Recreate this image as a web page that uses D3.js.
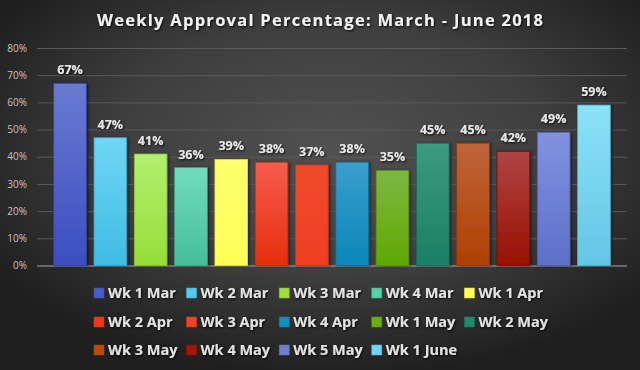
<!DOCTYPE html>
<html><head><meta charset="utf-8">
<script src="https://cdn.jsdelivr.net/npm/d3@7/dist/d3.min.js"></script>
<style>html,body{margin:0;padding:0;background:#2a2a2a;}svg{display:block;}</style>
</head><body>
<script>
const title = "Weekly Approval Percentage: March - June 2018";
const categories = ["Wk 1 Mar","Wk 2 Mar","Wk 3 Mar","Wk 4 Mar","Wk 1 Apr","Wk 2 Apr","Wk 3 Apr","Wk 4 Apr","Wk 1 May","Wk 2 May","Wk 3 May","Wk 4 May","Wk 5 May","Wk 1 June"];
const values = [67,47,41,36,39,38,37,38,35,45,45,42,49,59];
const yTicks = [0,10,20,30,40,50,60,70,80];
const topColors = ["#6a7ad2","#70d6f6","#b2ef70","#72dcba","#ffff6e","#f85c4c","#f04a2c","#3c9ecc","#7cb844","#3c9a80","#c0643c","#b04444","#8292e2","#8ce2f8"];
const bottomColors = ["#3a4ec0","#3ebbe4","#96de38","#44bf98","#ffff58","#e62e0c","#f03e22","#0887b8","#60a800","#1a7f65","#ae4000","#981000","#5c6fc8","#64c6e6"];
const legendColors = ["#4a5cc8","#55c8f0","#a0e040","#55d0a8","#ffff55","#f03a1e","#f04428","#1090c0","#68b010","#208a6c","#b84c10","#a01808","#7080d0","#70d4f4"];

const W = 640, H = 370;
const margin = {left: 37, right: 13, top: 48, bottom: 104};
const svg = d3.select("body").append("svg").attr("width", W).attr("height", H);
const defs = svg.append("defs");

const bg = defs.append("radialGradient").attr("id","bg").attr("cx","52%").attr("cy","40%").attr("r","62%");
bg.append("stop").attr("offset","0%").attr("stop-color","#515151");
bg.append("stop").attr("offset","55%").attr("stop-color","#3e3e3e");
bg.append("stop").attr("offset","100%").attr("stop-color","#1f1f1f");

const sh = defs.append("filter").attr("id","tshadow").attr("x","-10%").attr("y","-30%").attr("width","120%").attr("height","160%");
sh.append("feDropShadow").attr("dx",1).attr("dy",1.2).attr("stdDeviation",0.8).attr("flood-color","#000").attr("flood-opacity",0.85);
const bsh = defs.append("filter").attr("id","bshadow").attr("x","-20%").attr("y","-10%").attr("width","140%").attr("height","120%");
bsh.append("feDropShadow").attr("dx",1.5).attr("dy",0).attr("stdDeviation",1.2).attr("flood-color","#000").attr("flood-opacity",0.5);

categories.forEach((c,i) => {
  const g = defs.append("linearGradient").attr("id","g"+i).attr("x1",0).attr("y1",0).attr("x2",0).attr("y2",1);
  g.append("stop").attr("offset","0%").attr("stop-color", topColors[i]);
  g.append("stop").attr("offset","100%").attr("stop-color", bottomColors[i]);
});

svg.append("rect").attr("width",W).attr("height",H).attr("fill","url(#bg)");

svg.append("text").attr("x", 320).attr("y", 26).attr("text-anchor","middle")
  .attr("font-family","'Open Sans', sans-serif").attr("font-weight","bold").attr("font-size",16.5)
  .attr("fill","#f2f2f2").attr("filter","url(#tshadow)")
  .attr("textLength", 446).attr("lengthAdjust","spacing")
  .text(title);

const x = d3.scaleBand().domain(categories).range([margin.left, W - margin.right]).paddingInner(0.19).paddingOuter(0.415);
const y = d3.scaleLinear().domain([0,80]).range([H - margin.bottom - 0.5, margin.top]);

const yAxis = d3.axisLeft(y).tickValues(yTicks).tickFormat(d => d + "%").tickSize(-(W - margin.left - margin.right)).tickPadding(10);
const ga = svg.append("g").attr("transform", `translate(${margin.left},0)`).call(yAxis);
ga.select(".domain").remove();
ga.selectAll(".tick line").attr("stroke","#5a5a5a").attr("stroke-width",1);
ga.selectAll(".tick text").attr("font-family","'Open Sans', sans-serif").attr("font-size",10).attr("fill","#c4c4c4").attr("x",-10);
ga.selectAll(".tick").filter(d => d === 0).select("line").attr("stroke","#a8a8a8");

const bars = svg.append("g");
bars.selectAll("rect").data(values).join("rect")
  .attr("x", (d,i) => x(categories[i]))
  .attr("y", d => y(d))
  .attr("width", x.bandwidth())
  .attr("height", d => y(0) - y(d))
  .attr("fill", (d,i) => `url(#g${i})`)
  .attr("stroke", (d,i) => d3.color(bottomColors[i]).darker(0.4))
  .attr("stroke-width", 0.8)
  .attr("filter","url(#bshadow)");

svg.append("g").selectAll("text").data(values).join("text")
  .attr("x", (d,i) => x(categories[i]) + x.bandwidth()/2)
  .attr("y", d => y(d) - 9)
  .attr("text-anchor","middle")
  .attr("font-family","'Open Sans', sans-serif").attr("font-weight","bold").attr("font-size",12.5)
  .attr("fill","#e8e8e8").attr("filter","url(#tshadow)")
  .text(d => d + "%");

// legend
const legCols = 5, colW = 92.6, legX0 = 94, rowY = [293, 322, 350];
const leg = svg.append("g");
const items = leg.selectAll("g").data(categories).join("g")
  .attr("transform", (d,i) => `translate(${legX0 + (i % legCols) * colW},${rowY[Math.floor(i / legCols)]})`);
items.append("rect").attr("x",0).attr("y",-5).attr("width",10).attr("height",10)
  .attr("fill",(d,i) => legendColors[i]).attr("stroke",(d,i)=>d3.color(legendColors[i]).darker(0.5)).attr("stroke-width",0.6);
items.append("text").attr("x",14).attr("y",5.3)
  .attr("font-family","'Open Sans', sans-serif").attr("font-weight","bold").attr("font-size",14.5)
  .attr("fill","#e2e2e2").attr("filter","url(#tshadow)")
  .text(d => d);
</script>
</body></html>
